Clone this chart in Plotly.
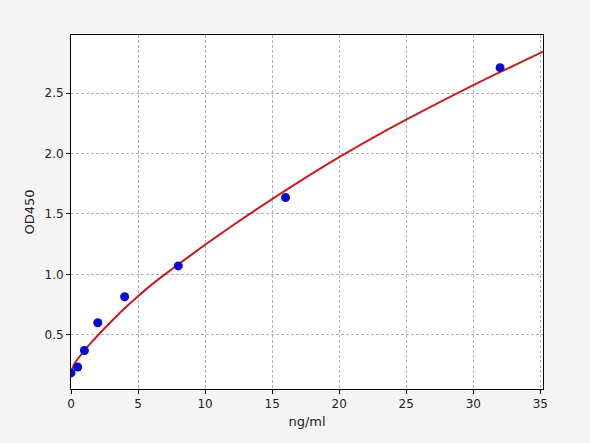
import plotly.graph_objects as go

# standard points (ng/ml vs OD450)
conc = [0, 0.5, 1, 2, 4, 8, 16, 32]
od450 = [0.185, 0.234, 0.37, 0.60, 0.815, 1.07, 1.635, 2.71]

# fitted curve
curve_x = [0, 0.1, 0.25, 0.5, 1, 1.5, 2, 3, 4, 5, 6, 7, 8, 10, 12, 14, 16, 18, 20, 22.5, 25, 27.5, 30, 32.5, 35.2]
curve_y = [0.18, 0.22, 0.26, 0.30, 0.37, 0.435, 0.495, 0.61, 0.72, 0.82, 0.913, 1.0, 1.083, 1.245, 1.40, 1.55, 1.695, 1.835, 1.97, 2.13, 2.28, 2.425, 2.565, 2.70, 2.842]

x_ticks = [0, 5, 10, 15, 20, 25, 30, 35]
y_ticks = [0.5, 1.0, 1.5, 2.0, 2.5]

fig = go.Figure()
fig.add_trace(go.Scatter(x=curve_x, y=curve_y, mode="lines",
                         line=dict(color="#c81e1e", width=2, shape="spline", smoothing=0.6),
                         hoverinfo="skip"))
fig.add_trace(go.Scatter(x=conc, y=od450, mode="markers",
                         marker=dict(color="#0a0ad2", size=9)))

axis_style = dict(showline=True, linecolor="black", linewidth=1, mirror=True,
                  ticks="outside", ticklen=4, tickcolor="black",
                  showgrid=True, gridcolor="#b4b4b4", griddash="3px,2px", gridwidth=1,
                  zeroline=False, tickfont=dict(size=12, color="#222"))

fig.update_xaxes(range=[0, 35.2], tickvals=x_ticks, title=dict(text="ng/ml", standoff=6, font=dict(size=13)), **axis_style)
fig.update_yaxes(range=[0.052, 2.98], tickvals=y_ticks, tickformat=".1f", title=dict(text="OD450", standoff=6, font=dict(size=13)), **axis_style)

fig.update_layout(
    width=590, height=443,
    margin=dict(l=71, r=47, t=35, b=54),
    paper_bgcolor="#f4f4f4", plot_bgcolor="white",
    showlegend=False,
    font=dict(family="DejaVu Sans", color="#222"),
)

# drop the page margin so the figure sits at the window corner
fig.write_html("out.html", config={"displayModeBar": False},
               post_script="document.body.style.margin='0';")
